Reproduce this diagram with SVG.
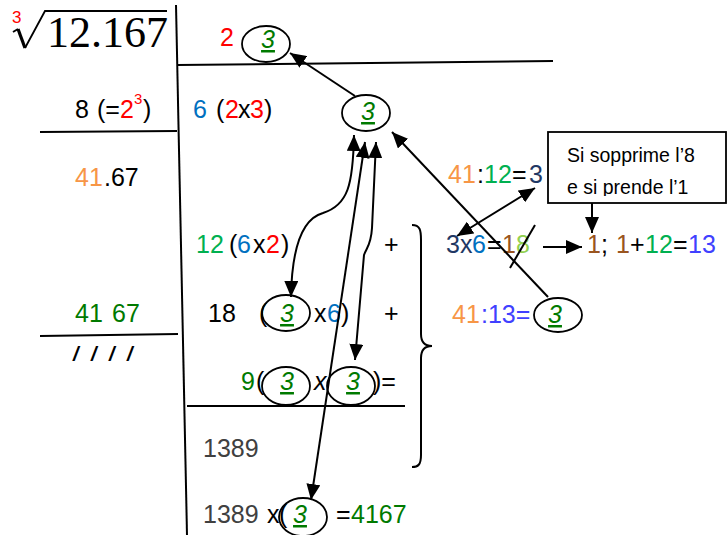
<svg xmlns="http://www.w3.org/2000/svg" width="727" height="535" viewBox="0 0 727 535">
<style>
.t{font-family:"Liberation Sans",Arial,sans-serif;font-size:25px;fill:#000}
.ln{stroke:#000;stroke-width:2;fill:none}
.cn{stroke:#000;stroke-width:2;fill:none}
.ell{fill:none;stroke:#000;stroke-width:1.8}
.g3{font-family:"Liberation Sans",Arial,sans-serif;font-size:25px;fill:#007A00;font-style:italic;text-decoration:underline;text-anchor:middle}
.r{fill:#FF0000}.b{fill:#0070C0}.gr{fill:#00B050}.dg{fill:#007A00}.o{fill:#F79646}.nv{fill:#1F3864}.br{fill:#9A5520}.lg{fill:#92D050}.v{fill:#4040FF}.gy{fill:#404040}
</style>
<defs>
<marker id="ah" viewBox="0 0 16 14" refX="16" refY="7" markerWidth="16" markerHeight="14" markerUnits="userSpaceOnUse" orient="auto-start-reverse"><path d="M0,0 L16,7 L0,14 z" fill="#000"/></marker>
<clipPath id="boxclip"><rect x="548" y="132" width="178" height="64"/></clipPath>
</defs>

<g id="frame">
<path class="ln" d="M176,5 L187,535"/>
<path class="ln" d="M177,65 L553,61"/>
<path class="ln" d="M40,132 L177,131"/>
<path class="ln" d="M40,336 L178,334"/>
<path class="ln" d="M187,406 L405,406"/>
<path class="ln" d="M412,225 C420,225 421,230 421,240 L421,334 C421,342 425,346 432,346 C425,346 421,350 421,358 L421,455 C421,465 418,467 412,467"/>
</g>

<g id="radical">
<path d="M13,32 L18,29" stroke="#000" stroke-width="2" fill="none"/>
<path d="M18,29 L25,48" stroke="#000" stroke-width="3.2" fill="none"/>
<path d="M25,48 L45,11 L167,11" stroke="#000" stroke-width="1.8" fill="none"/>
<text x="47" y="47" font-family="Liberation Serif" font-size="44">12.167</text>
<text x="12" y="23" font-family="Liberation Sans" font-size="17" fill="#FF0000">3</text>
</g>

<g id="n-top">
<text class="t r" x="220" y="46">2</text>
<ellipse class="ell" cx="266" cy="44" rx="24" ry="18"/>
<text class="g3" x="268" y="48">3</text>
</g>

<g id="n-row1">
<text class="t" y="118"><tspan x="75">8</tspan><tspan x="97">(=</tspan><tspan x="120" class="r">2</tspan><tspan x="134" y="104" font-size="15" class="r">3</tspan><tspan x="143" y="118">)</tspan></text>
<text class="t" y="118"><tspan x="193" class="b">6</tspan><tspan x="216">(</tspan><tspan x="225" class="r">2</tspan><tspan x="238">x</tspan><tspan x="250" class="r">3</tspan><tspan x="264">)</tspan></text>
</g>

<g id="n-mid3">
<ellipse class="ell" cx="366" cy="113" rx="24" ry="18"/>
<text class="g3" x="368" y="120">3</text>
</g>

<g id="n-4167a">
<text class="t" y="186"><tspan x="75" class="o">41</tspan><tspan x="104">.67</tspan></text>
</g>

<g id="n-div1">
<text class="t" y="183"><tspan x="448" class="o">41</tspan><tspan x="477">:</tspan><tspan x="484" class="gr">12</tspan><tspan x="512">=</tspan><tspan x="529" class="nv">3</tspan></text>
</g>

<g id="n-box">
<rect x="548" y="132" width="178" height="71" fill="#fff" stroke="#000" stroke-width="1.8"/>
<g clip-path="url(#boxclip)">
<text x="567" y="162" font-family="Liberation Sans" font-size="19.5">Si sopprime l’8</text>
<text x="567" y="194" font-family="Liberation Sans" font-size="19.5">e si prende l’1</text>
</g>
</g>

<g id="n-row12">
<text class="t" y="253"><tspan x="196" class="gr">12</tspan><tspan x="229">(</tspan><tspan x="237" class="b">6</tspan><tspan x="253">x</tspan><tspan x="266" class="r">2</tspan><tspan x="281">)</tspan></text>
<text class="t" x="384" y="253">+</text>
</g>

<g id="n-3x6">
<text class="t" y="253"><tspan x="446" class="nv">3x</tspan><tspan x="472" class="b">6</tspan><tspan x="487">=</tspan><tspan x="502" class="br">1</tspan><tspan x="516" class="lg">8</tspan></text>
</g>

<g id="n-sum">
<text class="t" y="253"><tspan x="587" class="br">1</tspan><tspan x="601">;</tspan><tspan x="616" class="br">1</tspan><tspan x="630">+</tspan><tspan x="645" class="gr">12</tspan><tspan x="673">=</tspan><tspan x="688" class="v">13</tspan></text>
</g>

<g id="n-4167b">
<text class="t" y="322"><tspan x="75" class="dg">41</tspan><tspan x="112" class="dg">67</tspan></text>
<text y="361" font-family="Liberation Sans" font-size="20" font-style="italic" font-weight="bold"><tspan x="73">/</tspan><tspan x="91">/</tspan><tspan x="109">/</tspan><tspan x="127">/</tspan></text>
</g>

<g id="n-row18">
<text class="t" y="322"><tspan x="208">18</tspan><tspan x="259">(</tspan><tspan x="314">x</tspan><tspan x="327" class="b">6</tspan><tspan x="341">)</tspan></text>
<ellipse class="ell" cx="286" cy="313" rx="24" ry="18"/>
<text class="g3" x="287" y="322">3</text>
<text class="t" x="384" y="322">+</text>
</g>

<g id="n-div2">
<text class="t" y="323"><tspan x="452" class="o">41</tspan><tspan x="481" class="v">:13=</tspan></text>
<ellipse class="ell" cx="558" cy="315" rx="24" ry="17"/>
<text class="g3" x="555" y="323">3</text>
</g>

<g id="n-row9">
<text class="t" y="390"><tspan x="241" class="dg">9</tspan><tspan x="256">(</tspan><tspan x="314" font-style="italic">x</tspan><tspan x="373">)=</tspan></text>
<ellipse class="ell" cx="286" cy="386" rx="24" ry="19"/>
<text class="g3" x="287" y="390">3</text>
<ellipse class="ell" cx="351" cy="386" rx="24" ry="19"/>
<text class="g3" x="353" y="390">3</text>
</g>

<g id="n-1389">
<text class="t gy" x="203" y="457">1389</text>
</g>

<g id="n-result">
<text class="t" y="523"><tspan x="203" class="gy">1389</tspan><tspan x="267">x</tspan><tspan x="279">(</tspan><tspan x="336">=</tspan><tspan x="351" class="dg">4167</tspan></text>
<ellipse class="ell" cx="303" cy="517" rx="24" ry="19"/>
<text class="g3" x="300" y="523">3</text>
</g>

<g id="connectors">
<path class="cn" d="M355,96 L290,53" marker-end="url(#ah)"/>
<path class="cn" d="M354,135 C353,185 348,205 323,213 C305,218 292,240 291,297" marker-start="url(#ah)" marker-end="url(#ah)"/>
<path class="cn" d="M365,142 L311,500" marker-start="url(#ah)" marker-end="url(#ah)"/>
<path class="cn" d="M376,142 L372,228 C371,245 367,247 364,255 L355,360" marker-start="url(#ah)" marker-end="url(#ah)"/>
<path class="cn" d="M548,297 L392,132" marker-end="url(#ah)"/>
<path class="cn" d="M457,236 L535,188" marker-start="url(#ah)" marker-end="url(#ah)"/>
<path class="cn" d="M543,247 L582,247" marker-end="url(#ah)"/>
<path class="cn" d="M592,203 L592,233" marker-end="url(#ah)"/>
<path class="cn" d="M510,268 L535,225"/>
</g>
</svg>
